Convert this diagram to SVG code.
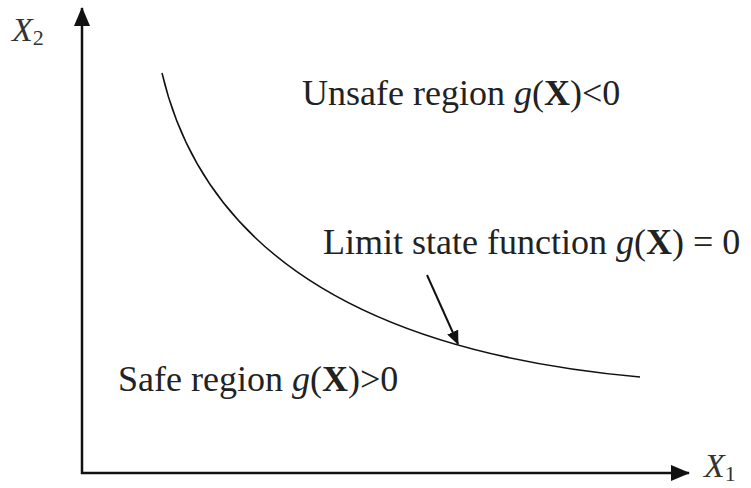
<svg xmlns="http://www.w3.org/2000/svg" width="751" height="488" viewBox="0 0 751 488">
<style>
text{font-family:"Liberation Serif","Times New Roman",serif;font-size:36px;fill:#222}
.i{font-style:italic}
.b{font-weight:bold}
.ax{font-size:34px;fill:#333}
.s{font-size:22px;font-style:normal}
.ln{stroke:#111;fill:none}
</style>
<defs>
<marker id="ah" markerWidth="14" markerHeight="12" refX="13" refY="6" orient="auto" markerUnits="userSpaceOnUse">
<path d="M0,0 L14,6 L0,12 Z" fill="#111"/>
</marker>
<marker id="ah2" markerWidth="19" markerHeight="16" refX="18" refY="8" orient="auto" markerUnits="userSpaceOnUse">
<path d="M0,0 L19,8 L0,16 Z" fill="#111"/>
</marker>
</defs>
<g id="axes">
<line class="ln" x1="82" y1="474" x2="82" y2="8" stroke-width="2.5" marker-end="url(#ah2)"/>
<line class="ln" x1="81" y1="473" x2="689" y2="473" stroke-width="2.5" marker-end="url(#ah2)"/>
<text x="12" y="41" class="ax i">X<tspan class="s" dy="4">2</tspan></text>
<text x="704" y="477" class="ax i">X<tspan class="s" dy="4">1</tspan></text>
</g>
<g id="curve">
<path class="ln" d="M162,73 C200,235 340,350 640,377" stroke-width="1.5"/>
</g>
<g id="labels">
<text x="302" y="105">Unsafe region <tspan class="i">g</tspan>(<tspan class="b">X</tspan>)&lt;0</text>
<text x="323" y="254">Limit state function <tspan class="i">g</tspan>(<tspan class="b">X</tspan>) = 0</text>
<text x="118" y="391">Safe region <tspan class="i">g</tspan>(<tspan class="b">X</tspan>)&gt;0</text>
</g>
<g id="connectors">
<line class="ln" x1="427" y1="275" x2="458" y2="344" stroke-width="2" marker-end="url(#ah)"/>
</g>
</svg>
